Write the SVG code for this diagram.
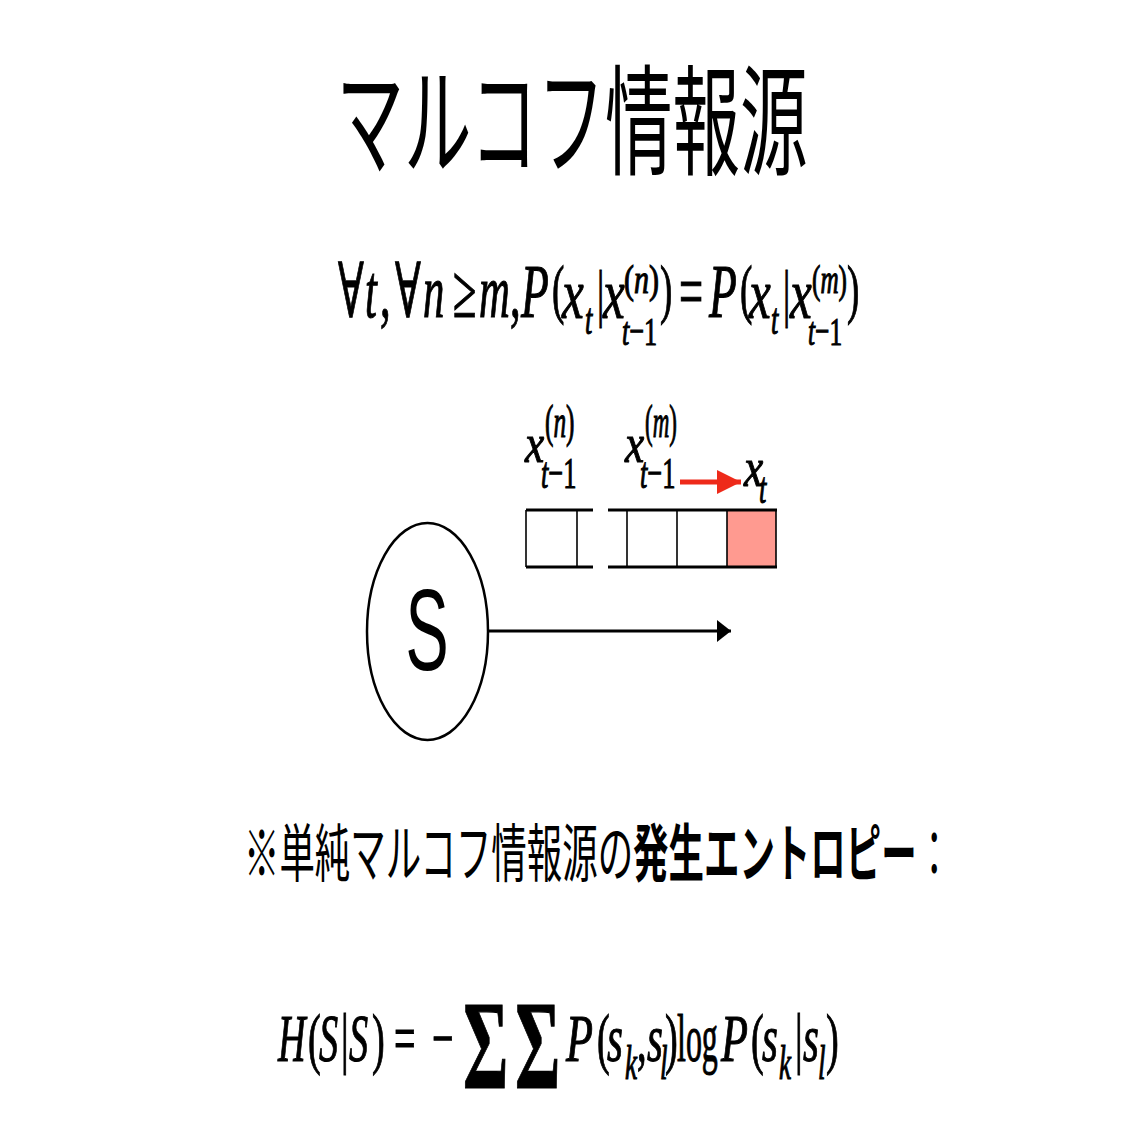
<svg xmlns="http://www.w3.org/2000/svg" width="1144" height="1144" viewBox="0 0 1144 1144">
<style>
.jp{font-family:"Noto Sans CJK JP","Noto Sans CJK SC",sans-serif;fill:#000}
.m text{font-family:"Liberation Serif","Times New Roman","DejaVu Serif",serif;fill:#000;stroke:#000;stroke-width:1.1}
.i{font-style:italic}
.ln{stroke:#000;fill:none}
</style>
<defs>
<marker id="ah" markerUnits="userSpaceOnUse" markerWidth="16" markerHeight="24" refX="14" refY="11" orient="auto">
<polygon points="0,0 14,11 0,22" fill="#000"/>
</marker>
<marker id="ahr" markerUnits="userSpaceOnUse" markerWidth="26" markerHeight="26" refX="24" refY="12" orient="auto">
<polygon points="0,0 24,12 0,24" fill="#EE2A1A"/>
</marker>
</defs>
<rect width="1144" height="1144" fill="#fff"/>

<g id="title">
<text class="jp" font-size="120" text-anchor="middle" transform="translate(572,166) scale(0.5625,1)">マルコフ情報源</text>
</g>

<g id="formula-markov" class="m" font-size="76">
<text transform="translate(338,317) scale(0.5625,1)">∀</text>
<text class="i" transform="translate(365,317) scale(0.5625,1)">t</text>
<text transform="translate(380,317) scale(0.5625,1)">,</text>
<text transform="translate(395,317) scale(0.5625,1)">∀</text>
<text class="i" transform="translate(423,317) scale(0.5625,1)">n</text>
<text transform="translate(453,317) scale(0.5625,1)">≥</text>
<text class="i" transform="translate(479,317) scale(0.5625,1)">m</text>
<text transform="translate(510,317) scale(0.5625,1)">,</text>
<text class="i" transform="translate(521,317) scale(0.6,1)">P</text>
<text font-size="66" transform="translate(552,311) scale(0.5625,1)">(</text>
<text class="i" font-size="72" transform="translate(562,318) scale(0.68,1)">x</text>
<text class="i" font-size="44" transform="translate(585,334) scale(0.6,1)">t</text>
<text font-size="64" transform="translate(597,314) scale(0.5625,1)">|</text>
<text class="i" font-size="72" transform="translate(603,318) scale(0.68,1)">x</text>
<text font-size="40" transform="translate(624,293) scale(0.75,1)">(<tspan class="i">n</tspan>)</text>
<text font-size="41" transform="translate(622,345) scale(0.64,1)"><tspan class="i">t</tspan>−1</text>
<text font-size="66" transform="translate(660,311) scale(0.5625,1)">)</text>
<text transform="translate(679,317) scale(0.5625,1)">=</text>
<text class="i" transform="translate(709,317) scale(0.6,1)">P</text>
<text font-size="66" transform="translate(740,311) scale(0.5625,1)">(</text>
<text class="i" font-size="72" transform="translate(749,318) scale(0.68,1)">x</text>
<text class="i" font-size="44" transform="translate(771,334) scale(0.6,1)">t</text>
<text font-size="64" transform="translate(783,314) scale(0.5625,1)">|</text>
<text class="i" font-size="72" transform="translate(790,318) scale(0.68,1)">x</text>
<text font-size="40" transform="translate(812,293) scale(0.63,1)">(<tspan class="i">m</tspan>)</text>
<text font-size="41" transform="translate(808,345) scale(0.62,1)"><tspan class="i">t</tspan>−1</text>
<text font-size="66" transform="translate(847,311) scale(0.5625,1)">)</text>
</g>

<g id="label-xn" class="m">
<text class="i" font-size="54" transform="translate(525,462) scale(0.8,1)">x</text>
<text font-size="46" transform="translate(545,437) scale(0.55,1)">(<tspan class="i">n</tspan>)</text>
<text font-size="44" transform="translate(541,488) scale(0.6,1)"><tspan class="i">t</tspan>−1</text>
</g>
<g id="label-xm" class="m">
<text class="i" font-size="54" transform="translate(625,462) scale(0.8,1)">x</text>
<text font-size="46" transform="translate(645,437) scale(0.5,1)">(<tspan class="i">m</tspan>)</text>
<text font-size="44" transform="translate(640,488) scale(0.6,1)"><tspan class="i">t</tspan>−1</text>
</g>
<g id="label-xt" class="m">
<text class="i" font-size="54" transform="translate(744,486) scale(0.8,1)">x</text>
<text class="i" font-size="44" transform="translate(759,503) scale(0.6,1)">t</text>
</g>

<g id="sequence-left">
<line class="ln" x1="526" y1="510" x2="593" y2="510" stroke-width="3"/>
<line class="ln" x1="526" y1="567" x2="593" y2="567" stroke-width="3"/>
<line class="ln" x1="526" y1="510" x2="526" y2="567" stroke-width="1.6"/>
<line class="ln" x1="577" y1="510" x2="577" y2="567" stroke-width="1.6"/>
</g>
<g id="sequence-right">
<rect x="727" y="510" width="49" height="57" fill="#FF9A90"/>
<line class="ln" x1="608" y1="510" x2="777" y2="510" stroke-width="3"/>
<line class="ln" x1="608" y1="567" x2="777" y2="567" stroke-width="3"/>
<line class="ln" x1="627" y1="510" x2="627" y2="567" stroke-width="1.6"/>
<line class="ln" x1="677" y1="510" x2="677" y2="567" stroke-width="1.6"/>
<line class="ln" x1="727" y1="510" x2="727" y2="567" stroke-width="1.6"/>
<line class="ln" x1="776" y1="510" x2="776" y2="567" stroke-width="1.6"/>
</g>

<g id="source-S">
<ellipse cx="427.5" cy="631.5" rx="60.5" ry="108.5" fill="#fff" stroke="#000" stroke-width="2.5"/>
<text font-family="Liberation Sans, Arial, sans-serif" font-size="115" text-anchor="middle" transform="translate(427,670) scale(0.5625,1)">S</text>
</g>

<g id="connectors">
<line x1="488" y1="631" x2="731" y2="631" stroke="#000" stroke-width="3" marker-end="url(#ah)"/>
<line x1="680" y1="482" x2="741" y2="482" stroke="#EE2A1A" stroke-width="5" marker-end="url(#ahr)"/>
</g>

<g id="note">
<text class="jp" font-size="63" transform="translate(244,876) scale(0.5625,1)">※単純マルコフ情報源の<tspan font-weight="bold">発生エントロピー</tspan>：</text>
</g>

<g id="formula-entropy" class="m" font-size="68">
<text class="i" transform="translate(278,1061) scale(0.5625,1)">H</text>
<text transform="translate(308,1061) scale(0.5625,1)">(</text>
<text class="i" transform="translate(319,1061) scale(0.5625,1)">S</text>
<text transform="translate(341,1061) scale(0.5625,1)">|</text>
<text class="i" transform="translate(349,1061) scale(0.5625,1)">S</text>
<text transform="translate(372,1061) scale(0.5625,1)">)</text>
<text transform="translate(394,1061) scale(0.5625,1)">=</text>
<text transform="translate(432,1061) scale(0.5625,1)">−</text>
<text font-size="126" font-weight="bold" transform="translate(463,1088) scale(0.55,1)">Σ</text>
<text font-size="126" font-weight="bold" transform="translate(515,1088) scale(0.55,1)">Σ</text>
<text class="i" transform="translate(566,1061) scale(0.65,1)">P</text>
<text transform="translate(597,1061) scale(0.5625,1)">(</text>
<text class="i" transform="translate(607,1061) scale(0.6,1)">s</text>
<text class="i" font-size="48" transform="translate(625,1079) scale(0.5625,1)">k</text>
<text transform="translate(637,1061) scale(0.5625,1)">,</text>
<text class="i" transform="translate(647,1061) scale(0.6,1)">s</text>
<text class="i" font-size="48" transform="translate(660,1079) scale(0.5625,1)">l</text>
<text transform="translate(665,1061) scale(0.5625,1)">)</text>
<text transform="translate(677,1061) scale(0.47,1)">log</text>
<text class="i" transform="translate(721,1061) scale(0.65,1)">P</text>
<text transform="translate(751,1061) scale(0.5625,1)">(</text>
<text class="i" transform="translate(762,1061) scale(0.6,1)">s</text>
<text class="i" font-size="48" transform="translate(779,1079) scale(0.5625,1)">k</text>
<text transform="translate(795,1061) scale(0.5625,1)">|</text>
<text class="i" transform="translate(803,1061) scale(0.6,1)">s</text>
<text class="i" font-size="48" transform="translate(818,1079) scale(0.5625,1)">l</text>
<text transform="translate(826,1061) scale(0.5625,1)">)</text>
</g>
</svg>
